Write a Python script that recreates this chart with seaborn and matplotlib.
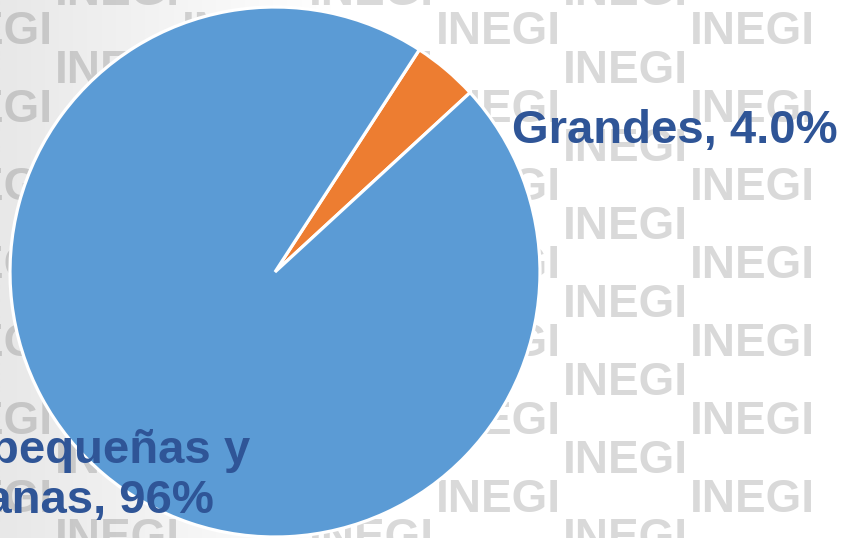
import numpy as np
import matplotlib
matplotlib.use("Agg")
import matplotlib.pyplot as plt
from matplotlib.colors import LinearSegmentedColormap
import seaborn as sns

# data
categories = ["Grandes", "Micro, pequeñas y\nmedianas"]
shares = [4.0, 96.0]
share_labels = ["4.0%", "96%"]
slice_colors = ["#ED7D31", "#5B9BD5"]

W, H = 846, 538
label_color = "#2F5597"

sns.set_theme(style="white")
plt.rcParams["font.family"] = ["Liberation Sans", "DejaVu Sans"]


def main():
    fig = plt.figure(figsize=(W / 100, H / 100), dpi=100)

    #######################
    ## watermark background
    #######################
    bg = fig.add_axes([0, 0, 1, 1])
    bg.set_xlim(0, W)
    bg.set_ylim(H, 0)
    bg.axis("off")
    cmap = LinearSegmentedColormap.from_list("bg", ["#ffffff", "#e8e8e8"])
    grad = np.clip(1 - np.linspace(0, W, 300) / 330, 0, 1)[None, :]
    bg.imshow(grad, extent=(0, W, H, 0), aspect="auto", cmap=cmap, vmin=0, vmax=1)

    # watermark tiles stop at the right column (ends ~810 px)
    for k in range(7):
        x0 = -72 + 127 * k
        y_start = 10 if k % 2 == 0 else 49
        for y0 in range(y_start - 78, H + 40, 78):
            bg.text(
                x0, y0, "INEGI", ha="left", va="top", fontsize=33,
                fontweight="bold", color="black", alpha=0.15,
            )

    #######################
    ## pie
    #######################
    cx, cy, r = 275, 272, 265
    ax = fig.add_axes([(cx - r) / W, (H - cy - r) / H, 2 * r / W, 2 * r / H])
    wedges, _ = ax.pie(
        shares,
        colors=sns.color_palette(slice_colors),
        startangle=57,
        counterclock=False,
        wedgeprops=dict(edgecolor="white", linewidth=2.3),
    )
    for w in wedges:
        w.set_clip_on(False)
    ax.set_xlim(-1, 1)
    ax.set_ylim(-1, 1)
    ax.set_aspect("equal")
    ax.axis("off")

    # data labels
    fig.text(
        512 / W, 1 - 143 / H, f"{categories[0]}, {share_labels[0]}",
        ha="left", va="baseline", fontsize=34, fontweight="bold", color=label_color,
    )
    fig.text(
        44 / W, 1 - 513 / H, f"{categories[1]}, {share_labels[1]}",
        ha="center", va="baseline", multialignment="center", linespacing=1.17,
        fontsize=34, fontweight="bold", color=label_color,
    )

    fig.savefig("out.png", dpi=100)


if __name__ == "__main__":
    main()
